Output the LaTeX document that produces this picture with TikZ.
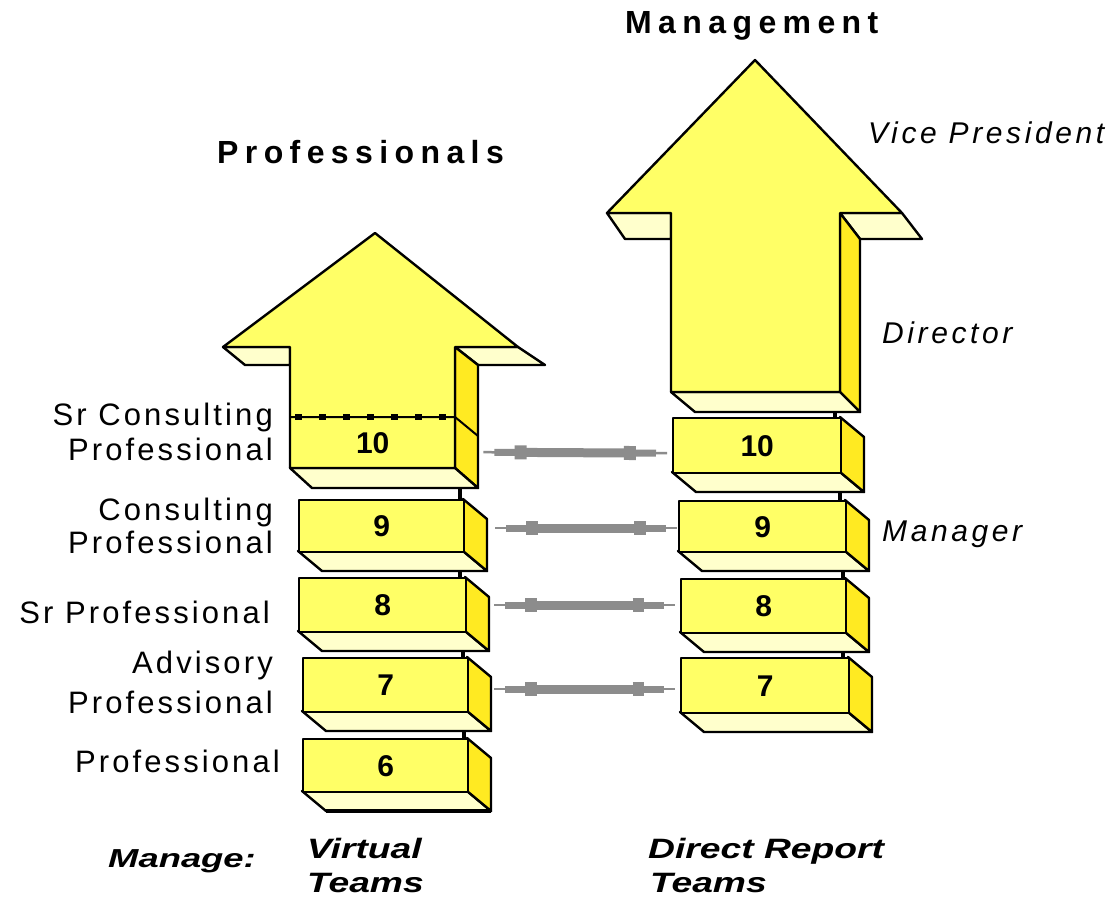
\documentclass[tikz,border=0pt]{standalone}
\usepackage{fontspec}
\usepackage{graphicx}
\setmainfont{Liberation Sans}
\newfontfamily\labfont[LetterSpace=10]{Liberation Sans}
\newfontfamily\titfont[LetterSpace=20]{Liberation Sans}
\newfontfamily\itlfont[LetterSpace=12]{Liberation Sans}
\usetikzlibrary{calc}
\definecolor{frontc}{HTML}{FFFF66}
\definecolor{underc}{HTML}{FFFFCC}
\definecolor{sidec}{HTML}{FFEA22}
\definecolor{linkc}{HTML}{8C8C8C}
\tikzset{
  face/.style={draw=black, line width=2.4pt, line join=round},
  frontface/.style={face, fill=frontc},
  underface/.style={face, fill=underc},
  sideface/.style={face, fill=sidec},
  boxfront/.style={frontface, anchor=north west, inner sep=0pt, font=\fontsize{30}{30}\selectfont\bfseries},
  numlabel/.style={inner sep=0pt, font=\fontsize{30}{30}\selectfont\bfseries},
  levellabel/.style={anchor=base east, inner sep=0pt, font=\labfont\fontsize{31}{31}\selectfont},
  titlelabel/.style={anchor=base west, inner sep=0pt, font=\titfont\fontsize{32}{32}\selectfont\bfseries},
  rolelabel/.style={anchor=base west, inner sep=0pt, font=\itlfont\fontsize{30}{30}\selectfont\itshape},
  managelabel/.style={anchor=base west, inner sep=0pt, font=\fontsize{28}{28}\selectfont\bfseries\itshape},
  gapmark/.style={draw=black, line width=3.5pt},
}
\newcommand{\tdbox}[6]{%
  \path[underface] (#2,#5) -- (#4,#5) -- (#4+24,#5+20) -- (#2+24,#5+20) -- cycle;
  \path[sideface] (#4,#3) -- (#4+24,#3+20) -- (#4+24,#5+20) -- (#4,#5) -- cycle;
  \node[boxfront, minimum width={(#4-#2)*1pt}, minimum height={(#5-#3)*1pt}] (#1) at (#2,#3) {#6};
}
\newcommand{\linkarrow}[2]{%
  \draw[linkc, line width=2.5pt] (#1) -- (#2);
  \draw[linkc, line width=7pt] ($(#1)!0.06!(#2)$) -- ($(#1)!0.94!(#2)$);
  \draw[linkc, line width=9pt] ($(#1)!0.2!(#2)$) -- ($(#1)!0.8!(#2)$);
  \draw[linkc, line width=14pt] ($(#1)!0.17!(#2)$) -- ($(#1)!0.235!(#2)$);
  \draw[linkc, line width=14pt] ($(#1)!0.765!(#2)$) -- ($(#1)!0.83!(#2)$);
}
\begin{document}
\begin{tikzpicture}[x=1pt,y=-1pt]
\useasboundingbox (0,0) rectangle (1117,897);
\fill[white] (0,0) rectangle (1117,897);

% ---------- left (Professionals) arrow ----------
\path[underface] (223,347) -- (290,347) -- (290,365) -- (245,365) -- cycle;
\path[underface] (455,347) -- (518,347) -- (545,365) -- (478,365) -- cycle;
\path[sideface] (455,347) -- (478,365) -- (478,488) -- (455,468) -- cycle;
\path[underface] (290,468) -- (455,468) -- (478,488) -- (312,488) -- cycle;
\path[frontface] (290,468) -- (290,347) -- (223,347) -- (375,233) -- (518,347) -- (455,347) -- (455,468) -- cycle;
\draw[black, line width=2pt] (290,417) -- (455,417) -- (478,436);
\draw[black, line width=6.5pt, dash pattern=on 6.5pt off 17.5pt] (295,417) -- (460,417);
\node[numlabel, minimum width=165pt, minimum height=51pt, anchor=north west] (l10) at (290,417) {10};

% ---------- right (Management) arrow ----------
\path[underface] (607,213) -- (671,213) -- (671,239) -- (625,239) -- cycle;
\path[underface] (840,213) -- (902,213) -- (922,239) -- (860,239) -- cycle;
\path[sideface] (840,213) -- (860,239) -- (860,412) -- (840,392) -- cycle;
\path[underface] (671,392) -- (840,392) -- (860,412) -- (695,412) -- cycle;
\path[frontface] (671,392) -- (671,213) -- (607,213) -- (755,60) -- (902,213) -- (840,213) -- (840,392) -- cycle;

% ---------- boxes ----------
\tdbox{l9}{298}{499}{463}{551}{9}
\tdbox{l8}{298}{577}{465}{631}{8}
\tdbox{l7}{302}{657}{467}{711}{7}
\tdbox{l6}{302}{738}{467}{791}{6}
\tdbox{r10}{672}{417}{840}{472}{10}
\tdbox{r9}{678}{500}{845}{551}{9}
\tdbox{r8}{680}{578}{845}{632}{8}
\tdbox{r7}{680}{657}{848}{712}{7}

% gaps between stacked blocks
\draw[gapmark] (460,488) -- (460,499);
\draw[gapmark] (460,571) -- (460,577);
\draw[gapmark] (463,651) -- (463,657);
\draw[gapmark] (464,731) -- (464,738);
\draw[gapmark] (835,412) -- (835,417);
\draw[gapmark] (840,492) -- (840,500);
\draw[gapmark] (843,571) -- (843,578);
\draw[gapmark] (843,652) -- (843,657);
\draw[black, line width=4pt] (326,811) -- (491,811);

% ---------- links ----------
\coordinate (s1) at ($(l10.east)+(28,9.5)$);
\coordinate (e1) at ($(r10.west)+(-5,7.5)$);
\coordinate (s2) at ($(l9.east)+(30,2)$);
\coordinate (e2) at ($(r9.west)+(-1,1.5)$);
\coordinate (s3) at ($(l8.east)+(27,0)$);
\coordinate (e3) at ($(r8.west)+(-5,-1)$);
\coordinate (s4) at ($(l7.east)+(25,4)$);
\coordinate (e4) at ($(r7.west)+(-5,3.5)$);
\linkarrow{s1}{e1}
\linkarrow{s2}{e2}
\linkarrow{s3}{e3}
\linkarrow{s4}{e4}

% ---------- titles ----------
\node[titlelabel] (tprof) at (217,163) {Professionals};
\node[titlelabel] (tmgmt) at (625,33) {Management};

% ---------- level labels ----------
\node[levellabel] (p10a) at (273,425) {Sr Consulting};
\node[levellabel] (p10b) at (273,460) {Professional};
\node[levellabel] (p9a) at (273,520) {Consulting};
\node[levellabel] (p9b) at (273,553) {Professional};
\node[levellabel] (p8) at (270,623) {Sr Professional};
\node[levellabel] (p7a) at (273,673) {Advisory};
\node[levellabel] (p7b) at (273,713) {Professional};
\node[levellabel] (p6) at (280,772) {Professional};

% ---------- role labels ----------
\node[rolelabel] (vp) at (868,143) {Vice President};
\node[rolelabel] (dir) at (882,343) {Director};
\node[rolelabel] (mgr) at (882,541) {Manager};

% ---------- bottom labels ----------
\node[managelabel, font=\fontsize{26}{26}\selectfont\bfseries\itshape] (manage) at (108,867) {\scalebox{1.4}[1]{Manage:}};
\node[managelabel] (virt1) at (307,858) {\scalebox{1.33}[1]{Virtual}};
\node[managelabel] (virt2) at (307,892) {\scalebox{1.33}[1]{Teams}};
\node[managelabel] (dir1) at (648,858) {\scalebox{1.33}[1]{Direct Report}};
\node[managelabel] (dir2) at (650,892) {\scalebox{1.33}[1]{Teams}};
\end{tikzpicture}
\end{document}
